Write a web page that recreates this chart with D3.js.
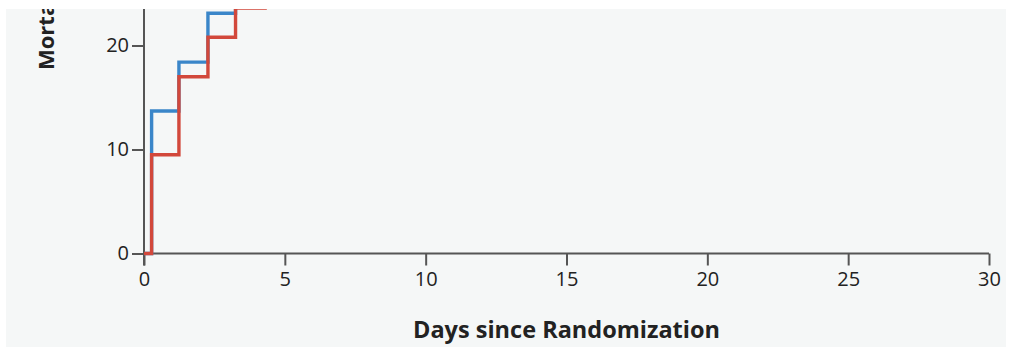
<!DOCTYPE html>
<html>
<head>
<meta charset="utf-8">
<script src="https://cdn.jsdelivr.net/npm/d3@7"></script>
<style>
  html, body { margin: 0; padding: 0; background: #ffffff; }
  svg { display: block; }
  text { font-family: "Open Sans", Lato, sans-serif; fill: #222; }
</style>
</head>
<body>
<svg id="chart" width="1009" height="347"></svg>
<script>
// Cumulative mortality (%) by day since randomization, step functions
const blueDays   = [0, 0.27, 1.24, 2.27, 3.25, 4.3];
const blueValues = [0, 13.7, 18.4, 23.1, 27.0, 29.5];
const redDays    = [0, 0.27, 1.24, 2.27, 3.25, 4.3];
const redValues  = [0, 9.5, 17.0, 20.8, 23.6, 27.5];

const xTicks = [0, 5, 10, 15, 20, 25, 30];
const yTicks = [0, 10, 20, 30];
const xTitle = "Days since Randomization";
const yTitle = "Mortality (%)";

const svg = d3.select("#chart");

// visible panel
const panel = { x: 6, y: 9, w: 1000, h: 338 };

svg.append("defs").append("clipPath").attr("id", "panel-clip")
  .append("rect").attr("x", panel.x).attr("y", panel.y)
  .attr("width", panel.w).attr("height", panel.h);

const g = svg.append("g").attr("clip-path", "url(#panel-clip)");

g.append("rect").attr("x", panel.x).attr("y", panel.y)
  .attr("width", panel.w).attr("height", panel.h).attr("fill", "#f5f7f7");

const x = d3.scaleLinear().domain([0, 30]).range([144, 989]);
const y = d3.scaleLinear().domain([0, 30]).range([253.5, -58.5]);

const lineGen = d3.line()
  .x(d => x(d[0])).y(d => y(d[1]))
  .curve(d3.curveStepAfter);

function series(days, vals) {
  return days.map((d, i) => [d, vals[i]]);
}

// axes
const axisColor = "#555";
const xAxis = g.append("g").attr("transform", `translate(0,${y(0)})`)
  .call(d3.axisBottom(x).tickValues(xTicks).tickSize(12).tickPadding(6).tickFormat(d3.format("d")));
const yAxis = g.append("g").attr("transform", `translate(${x(0)},0)`)
  .call(d3.axisLeft(y).tickValues(yTicks).tickSize(12).tickPadding(3).tickFormat(d3.format("d")));

[xAxis, yAxis].forEach(a => {
  a.select(".domain").attr("stroke", axisColor).attr("stroke-width", 2);
  a.selectAll(".tick line").attr("stroke", axisColor).attr("stroke-width", 2);
  a.selectAll(".tick text").attr("fill", "#222").style("font-size", "20px")
    .style("font-family", "'Open Sans', Lato, sans-serif");
});
// y axis runs from the origin tick past the top of the panel
yAxis.select(".domain").attr("d", `M0,${y(0) + 12}V${y(30)}`);
xAxis.select(".domain").attr("d", `M${x(0)},0H${x(30)}`);

// step curves
g.append("path").datum(series(blueDays, blueValues))
  .attr("d", lineGen).attr("fill", "none")
  .attr("stroke", "#3a86c9").attr("stroke-width", 3.4);
g.append("path").datum(series(redDays, redValues))
  .attr("d", lineGen).attr("fill", "none")
  .attr("stroke", "#d2483b").attr("stroke-width", 3.4);

// titles
g.append("text").attr("x", (x(0) + x(30)) / 2).attr("y", 338)
  .attr("text-anchor", "middle").style("font-size", "23.5px").style("font-weight", "bold")
  .text(xTitle);
g.append("text").attr("transform", "translate(54,70) rotate(-90)")
  .attr("text-anchor", "start").style("font-size", "22px").style("font-weight", "bold")
  .text(yTitle);
</script>
</body>
</html>
